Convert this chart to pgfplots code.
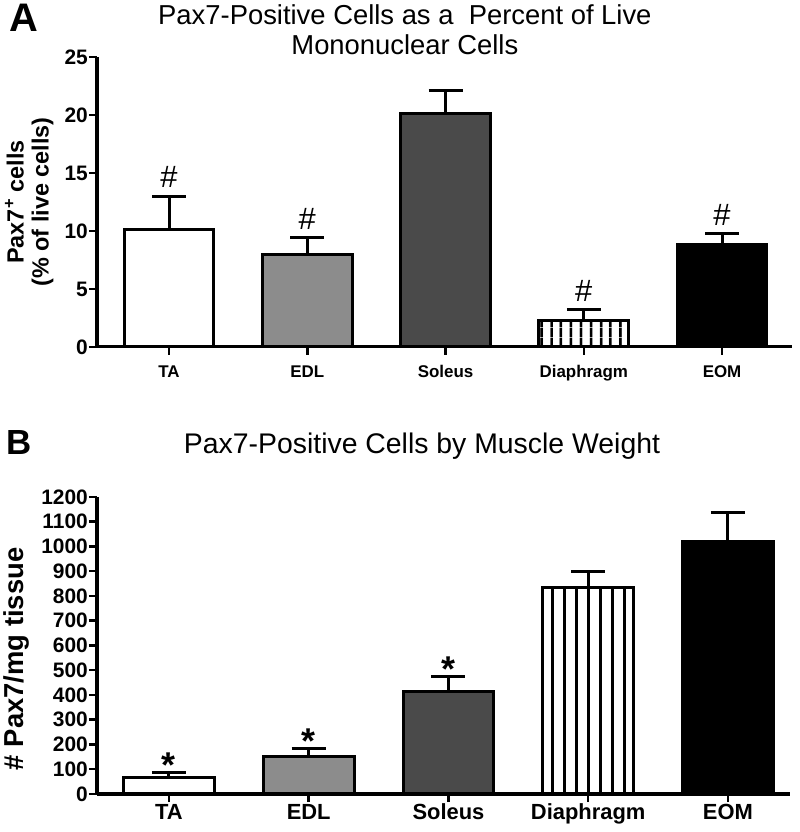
\documentclass[border=0pt]{standalone}
\usepackage{fontspec}
\setmainfont{Liberation Sans}
\usepackage{pgfplots}
\pgfplotsset{compat=1.18}
\usetikzlibrary{patterns.meta}
\definecolor{gA}{RGB}{140,140,140}
\definecolor{gB}{RGB}{74,74,74}
\newcommand{\fs}[2]{\fontsize{#1}{#2}\selectfont}
\pgfplotsset{
  musc/.style={
    scale only axis, clip=false,
    axis x line*=bottom, axis y line*=left,
    axis line style={line width=3bp, black},
    every tick/.style={line width=2.5bp, black},
    tick align=outside, major tick length=8bp,
    xtick={0,1,2,3,4}, xticklabels={TA,EDL,Soleus,Diaphragm,EOM},
    ymin=0,
    /pgf/number format/assume math mode=true,
    /pgf/number format/1000 sep={},
    yticklabel style={inner sep=1bp},
    xticklabel style={anchor=north, inner sep=0pt},
  },
  mybar/.style={ybar, bar shift=0pt, bar width=0.65, draw=black, line width=3bp,
    error bars/y dir=plus, error bars/y explicit,
    error bars/error bar style={line width=3bp, black},
    error bars/error mark options={rotate=90, mark size=17bp, line width=3bp, black}},
}
\begin{document}
\begin{tikzpicture}
\path[use as bounding box] (0,0) rectangle (800bp,832bp);
\node[font=\fs{40}{40}\bfseries, anchor=base west, inner sep=0pt] at (9bp,800bp) {A};
\node[font=\fs{35}{35}\bfseries, anchor=base west, inner sep=0pt] at (6bp,377bp) {B};
% Panel A
\begin{axis}[musc, at={(97bp,485bp)}, anchor=south west, width=695bp, height=290bp,
  xmin=-0.521, xmax=4.506, ymax=25, ytick={0,5,...,25},
  yticklabel style={font=\fs{21}{21}\bfseries},
  xticklabel style={font=\fs{17}{17}\bfseries, text height=12.3bp, text depth=3.6bp, yshift=-10bp},
  ylabel={Pax7\textsuperscript{+} cells\\(\% of live cells)},
  ylabel style={font=\fs{23.5}{25}\bfseries, align=center, at={(axis description cs:-0.0625,0.5)}, anchor=south, inner sep=0pt},
  title={Pax7-Positive Cells as a\ \ Percent of Live\\Mononuclear Cells},
  title style={font=\fs{27.5}{30}, align=center, at={(axis description cs:0.443,1)}, anchor=south, inner sep=0pt, yshift=-4bp},
]
\addplot[mybar, fill=white] coordinates {(0,10.17) +- (0,2.83)};
\addplot[mybar, fill=gA] coordinates {(1,8.0) +- (0,1.4)};
\addplot[mybar, fill=gB] coordinates {(2,20.1) +- (0,2.0)};
\addplot[mybar, pattern={Lines[angle=90, distance=10bp, line width=3bp]}] coordinates {(3,2.25) +- (0,1.0)};
\addplot[mybar, fill=black] coordinates {(4,8.8) +- (0,1.0)};
\addplot[draw=none, mark=none, nodes near coords={\#},
  every node near coord/.append style={font=\fs{31}{31}, anchor=south, inner sep=0pt, yshift=8bp}]
  coordinates {(0,13.0) (1,9.4) (3,3.25) (4,9.8)};
\end{axis}
% Panel B
\begin{axis}[musc, at={(97bp,38bp)}, anchor=south west, width=693bp, height=297bp,
  xmin=-0.515, xmax=4.444, ymax=1200, ytick={0,100,...,1200},
  yticklabel style={font=\fs{21}{21}\bfseries},
  xticklabel style={font=\fs{22}{22}\bfseries, text height=15.9bp, text depth=4.6bp, yshift=-1bp},
  ylabel={\# Pax7/mg tissue},
  ylabel style={font=\fs{27.5}{27.5}\bfseries, at={(axis description cs:-0.098,0.455)}, anchor=south, inner sep=0pt},
  title={Pax7-Positive Cells by Muscle Weight},
  title style={font=\fs{28.5}{28.5}, at={(axis description cs:0.469,1)}, anchor=base, inner sep=0pt, yshift=38bp},
]
\addplot[mybar, fill=white] coordinates {(0,65) +- (0,20)};
\addplot[mybar, fill=gA] coordinates {(1,150) +- (0,32)};
\addplot[mybar, fill=gB] coordinates {(2,416) +- (0,57)};
\addplot[mybar, pattern={Lines[angle=90, distance=12bp, line width=3bp]}] coordinates {(3,836) +- (0,61)};
\addplot[mybar, fill=black] coordinates {(4,1022) +- (0,117)};
\addplot[draw=none, mark=none, nodes near coords={*},
  every node near coord/.append style={font=\fs{36}{36}\bfseries, anchor=base, inner sep=0pt, yshift=-5bp}]
  coordinates {(0,85) (1,182) (2,473)};
\end{axis}
\end{tikzpicture}
\end{document}
